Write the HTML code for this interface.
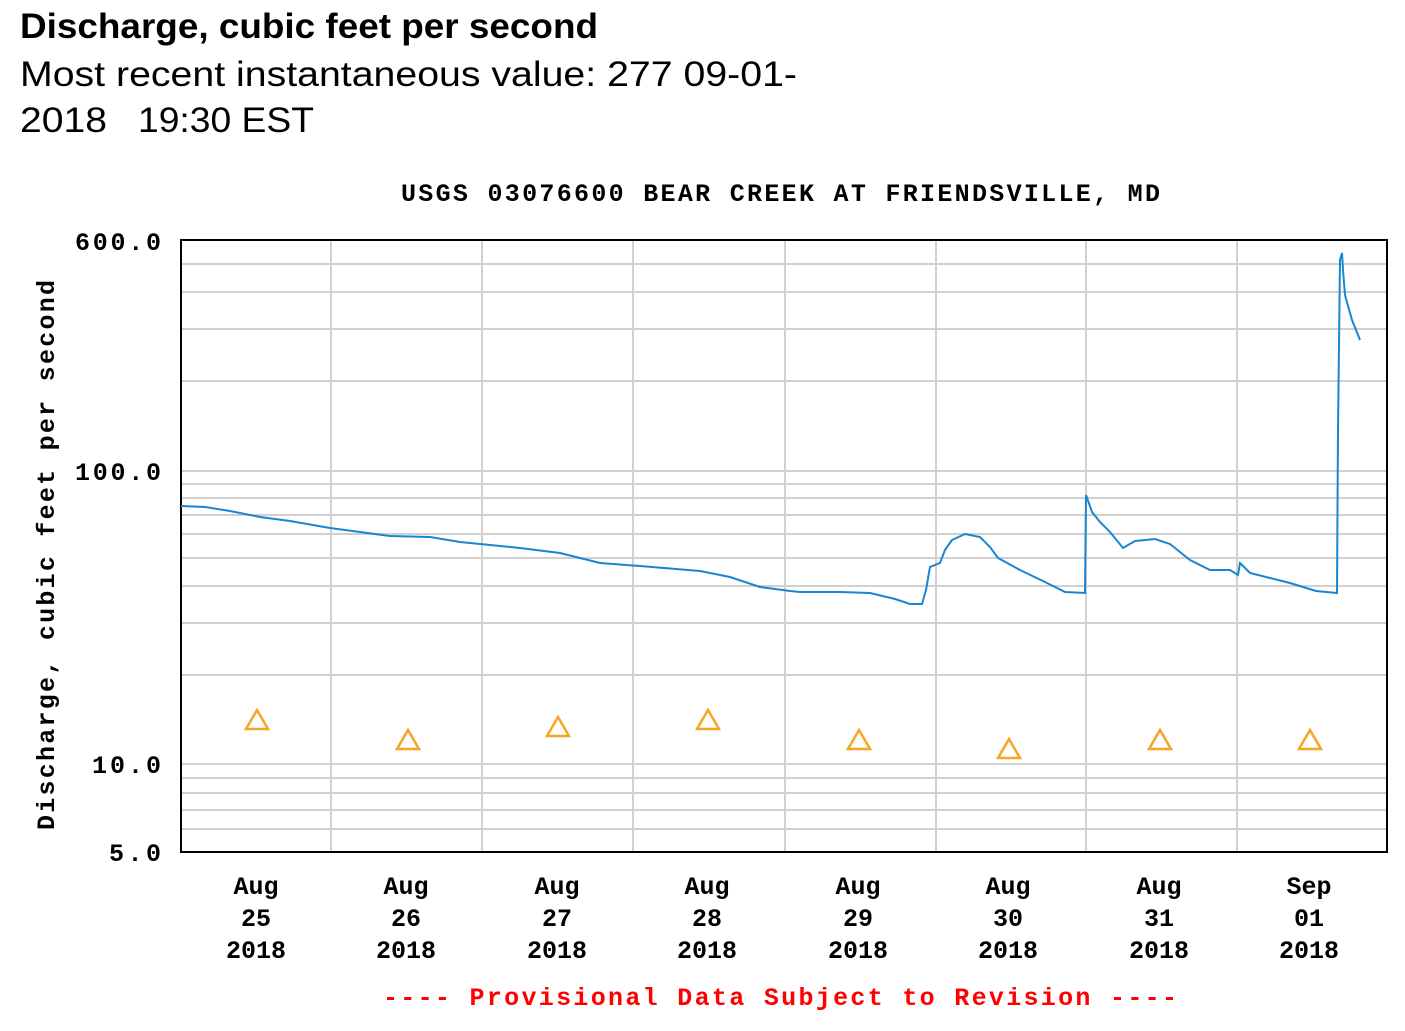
<!DOCTYPE html>
<html><head><style>
body{margin:0;background:#fff;width:1405px;height:1031px;overflow:hidden;font-family:"Liberation Sans",sans-serif}
</style></head><body>
<svg width="1405" height="1031" style="position:absolute;left:0;top:0" font-family="Liberation Mono, monospace" font-weight="bold">
<g font-family="Liberation Sans, sans-serif">
<text x="20" y="38" font-size="35" font-weight="bold" textLength="578" lengthAdjust="spacingAndGlyphs">Discharge, cubic feet per second</text>
<text x="20" y="86" font-size="35" font-weight="normal" textLength="777" lengthAdjust="spacingAndGlyphs">Most recent instantaneous value: 277 09-01-</text>
<text x="20" y="132" font-size="35" font-weight="normal" textLength="87" lengthAdjust="spacingAndGlyphs">2018</text>
<text x="138" y="132" font-size="35" font-weight="normal" textLength="176" lengthAdjust="spacingAndGlyphs">19:30 EST</text>
</g>
<text x="401" y="201" font-size="25" textLength="759" lengthAdjust="spacing">USGS 03076600 BEAR CREEK AT FRIENDSVILLE, MD</text>
<g stroke="#d0d0d0" stroke-width="2">
<line x1="181" x2="1387" y1="264" y2="264"/><line x1="181" x2="1387" y1="292" y2="292"/><line x1="181" x2="1387" y1="329" y2="329"/><line x1="181" x2="1387" y1="381" y2="381"/>
<line x1="181" x2="1387" y1="471" y2="471"/><line x1="181" x2="1387" y1="484" y2="484"/><line x1="181" x2="1387" y1="498" y2="498"/><line x1="181" x2="1387" y1="515" y2="515"/><line x1="181" x2="1387" y1="534" y2="534"/><line x1="181" x2="1387" y1="558" y2="558"/><line x1="181" x2="1387" y1="586" y2="586"/><line x1="181" x2="1387" y1="623" y2="623"/><line x1="181" x2="1387" y1="675" y2="675"/>
<line x1="181" x2="1387" y1="764" y2="764"/><line x1="181" x2="1387" y1="778" y2="778"/><line x1="181" x2="1387" y1="793" y2="793"/><line x1="181" x2="1387" y1="810" y2="810"/><line x1="181" x2="1387" y1="829" y2="829"/>
<line x1="331" x2="331" y1="240" y2="852"/><line x1="482" x2="482" y1="240" y2="852"/><line x1="633" x2="633" y1="240" y2="852"/><line x1="785" x2="785" y1="240" y2="852"/><line x1="936" x2="936" y1="240" y2="852"/><line x1="1086" x2="1086" y1="240" y2="852"/><line x1="1237" x2="1237" y1="240" y2="852"/>
</g>
<rect x="181" y="240" width="1206" height="612" fill="none" stroke="#000" stroke-width="2"/>
<g font-size="25">
<text x="75" y="250" textLength="86" lengthAdjust="spacing">600.0</text><text x="75" y="480" textLength="86" lengthAdjust="spacing">100.0</text><text x="92" y="773" textLength="69" lengthAdjust="spacing">10.0</text><text x="109" y="861" textLength="52" lengthAdjust="spacing">5.0</text>
</g>
<text transform="translate(54,830) rotate(-90)" font-size="25" textLength="550" lengthAdjust="spacing">Discharge, cubic feet per second</text>
<g font-size="25" text-anchor="middle">
<text x="256" y="894">Aug</text><text x="256" y="926">25</text><text x="256" y="958">2018</text>
<text x="406" y="894">Aug</text><text x="406" y="926">26</text><text x="406" y="958">2018</text>
<text x="557" y="894">Aug</text><text x="557" y="926">27</text><text x="557" y="958">2018</text>
<text x="707" y="894">Aug</text><text x="707" y="926">28</text><text x="707" y="958">2018</text>
<text x="858" y="894">Aug</text><text x="858" y="926">29</text><text x="858" y="958">2018</text>
<text x="1008" y="894">Aug</text><text x="1008" y="926">30</text><text x="1008" y="958">2018</text>
<text x="1159" y="894">Aug</text><text x="1159" y="926">31</text><text x="1159" y="958">2018</text>
<text x="1309" y="894">Sep</text><text x="1309" y="926">01</text><text x="1309" y="958">2018</text>
</g>
<text x="383" y="1005" font-size="25" fill="#ff0000" textLength="794" lengthAdjust="spacing">---- Provisional Data Subject to Revision ----</text>
<polyline fill="none" stroke="#1a85d0" stroke-width="2" points="181,506 205,507 230,511 260,517 290,521 330,528 360,532 390,536 430,537 460,542 480,544 520,548 560,553 600,563 640,566 700,571 730,577 760,587 790,591 800,592 840,592 870,593 895,599 910,604 922,604 926,590 930,567 940,563 945,550 952,540 965,534 980,537 990,547 998,558 1020,570 1045,582 1065,592 1085,593 1086,495 1092,512 1100,522 1110,532 1123,548 1135,541 1155,539 1170,544 1190,560 1210,570 1230,570 1238,575 1240,563 1250,573 1270,578 1290,583 1316,591 1337,593 1338,430 1340,260 1342,253 1343,270 1345,295 1352,320 1360,340"/>
<g fill="none" stroke="#f5a623" stroke-width="2.5">
<polygon points="257,710 246,729 268,729"/><polygon points="408,730 397,749 419,749"/><polygon points="558,717 547,736 569,736"/><polygon points="708,710 697,729 719,729"/><polygon points="859,730 848,749 870,749"/><polygon points="1009,739 998,758 1020,758"/><polygon points="1160,730 1149,749 1171,749"/><polygon points="1310,730 1299,749 1321,749"/>
</g>
</svg>
</body></html>
